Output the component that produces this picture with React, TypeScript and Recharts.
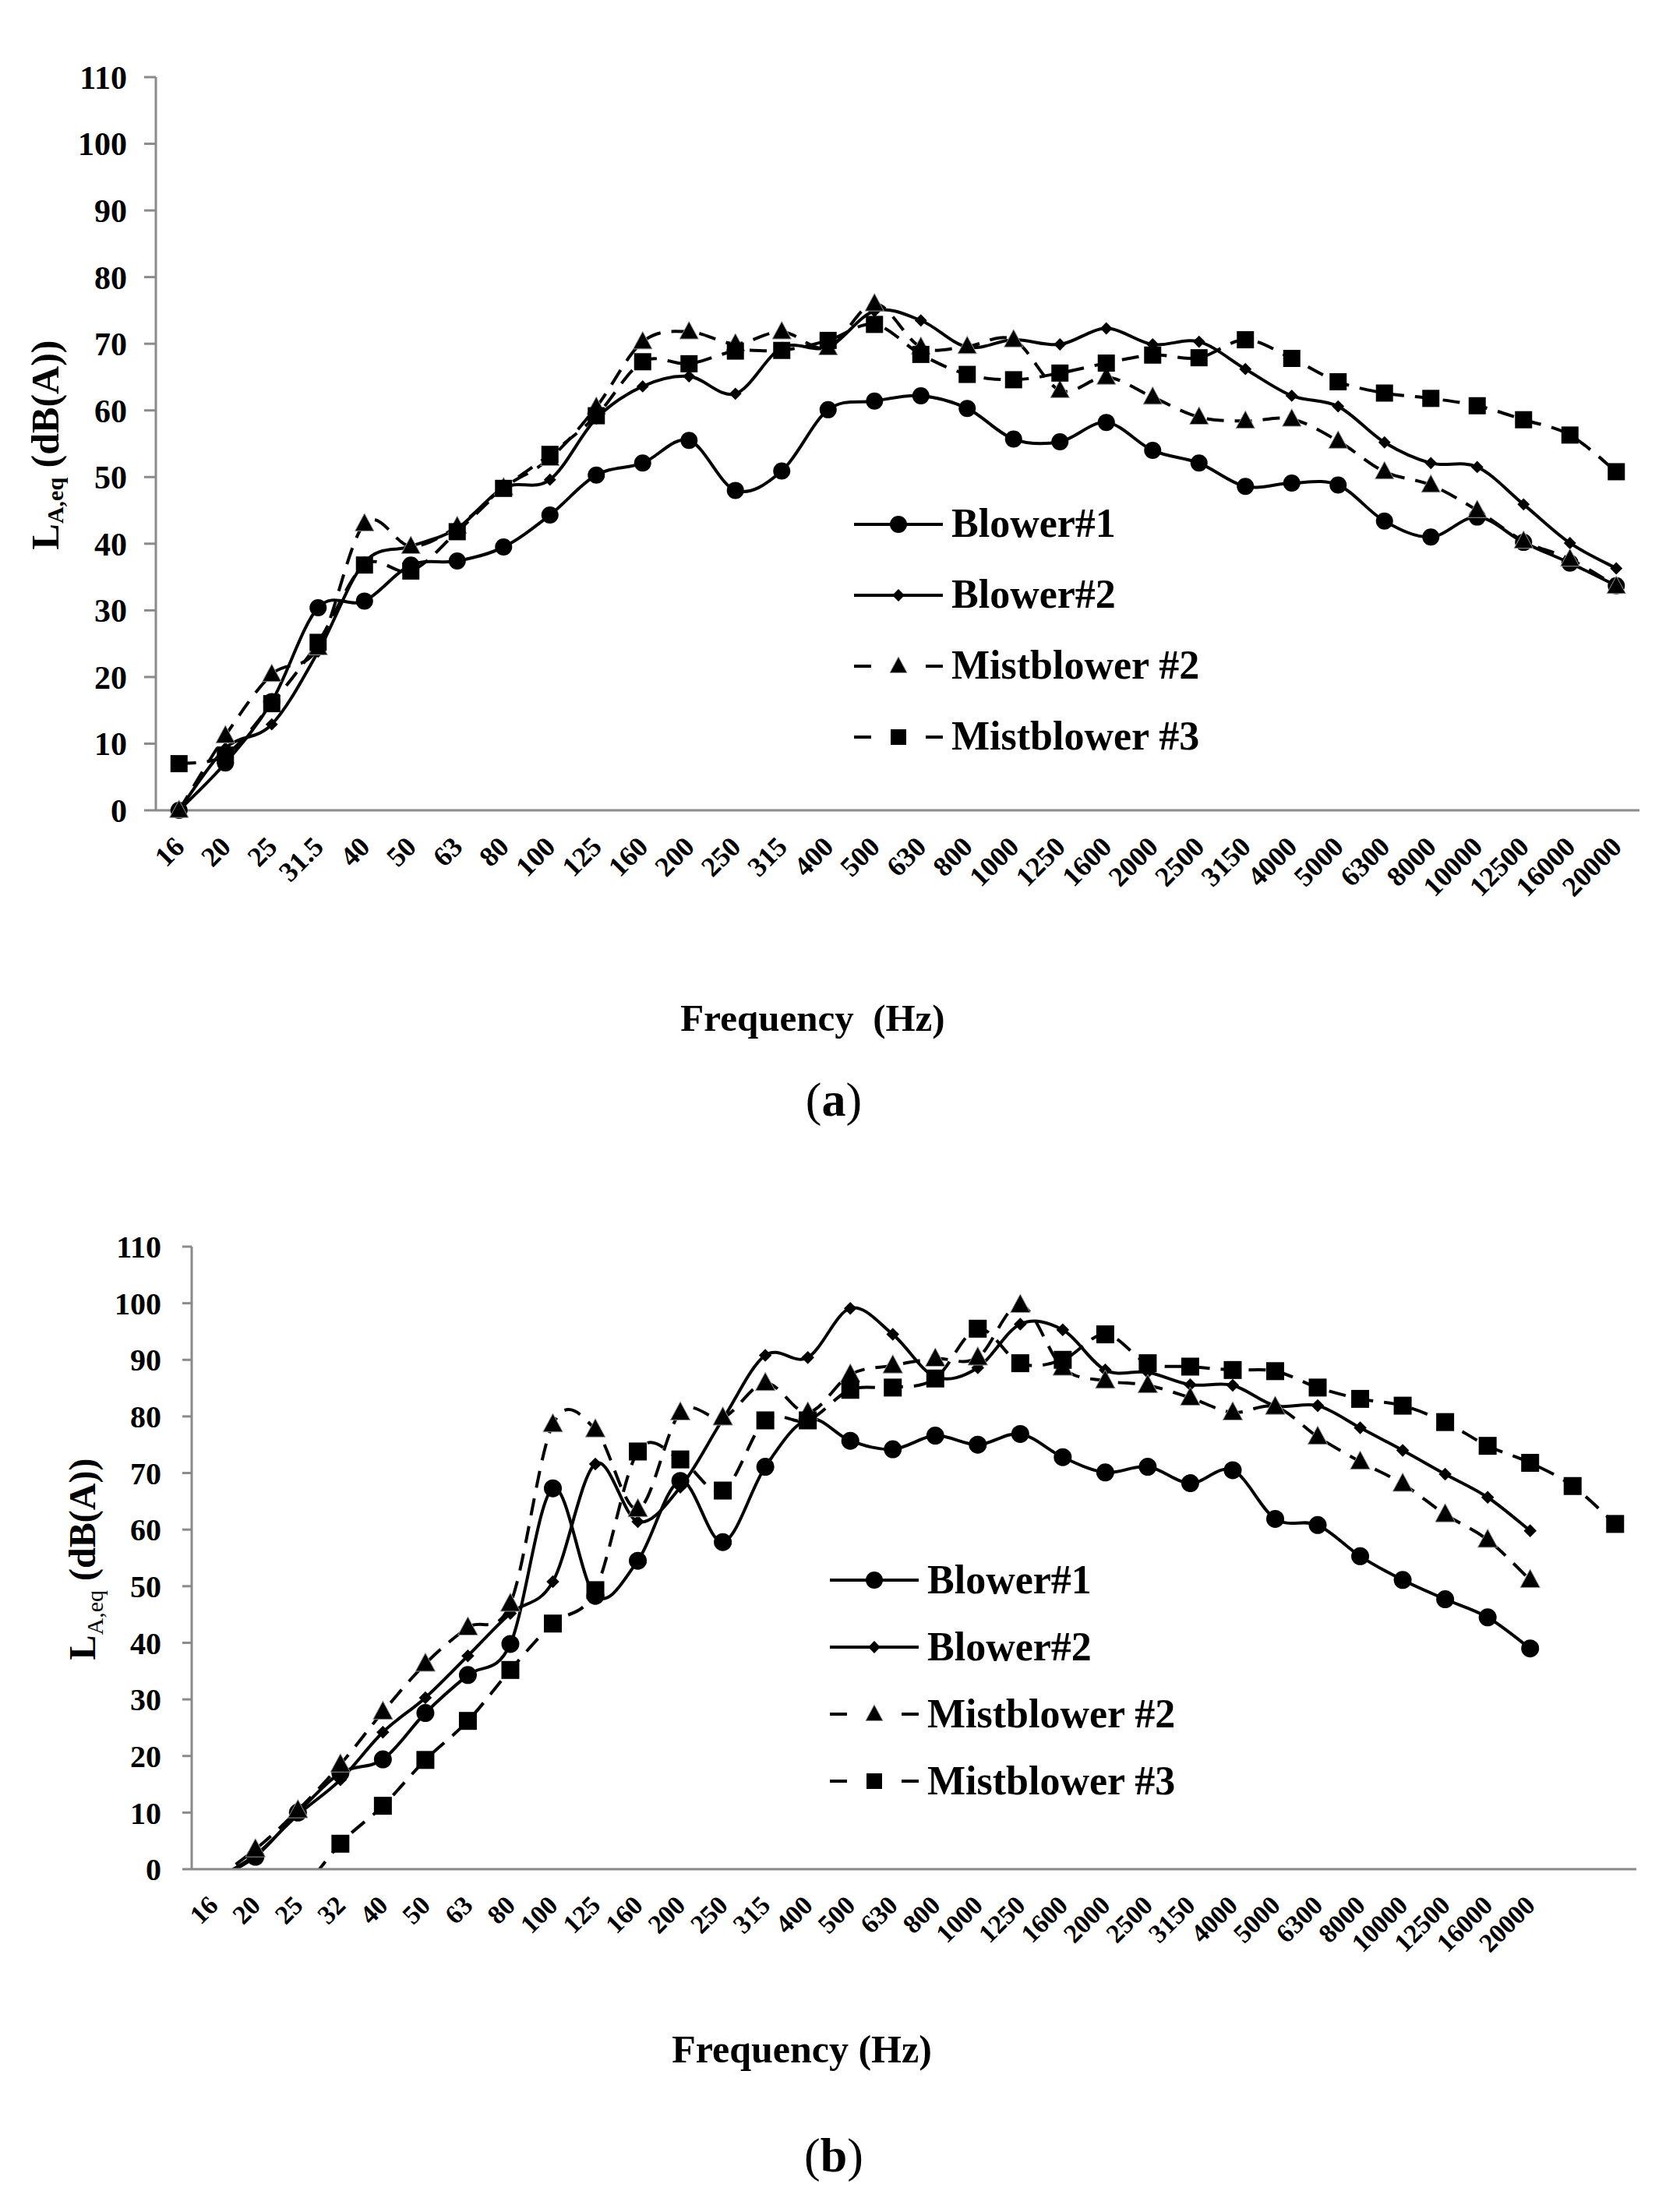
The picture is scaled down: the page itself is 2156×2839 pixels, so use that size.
import React from "react";
import { LineChart, Line, XAxis, YAxis, Legend } from "recharts";

// ---- panel (a) ----
const FREQ_A = ["16", "20", "25", "31.5", "40", "50", "63", "80", "100", "125", "160", "200", "250", "315", "400", "500", "630", "800", "1000", "1250", "1600", "2000", "2500", "3150", "4000", "5000", "6300", "8000", "10000", "12500", "16000", "20000"];
const BLOWER1_A = [0, 7.1, 16.3, 30.4, 31.4, 36.8, 37.4, 39.5, 44.3, 50.3, 52.1, 55.5, 48.0, 50.9, 60.1, 61.4, 62.2, 60.3, 55.7, 55.3, 58.2, 54.0, 52.1, 48.6, 49.1, 48.8, 43.4, 41.0, 44.0, 40.2, 37.1, 33.7];
const BLOWER2_A = [0, 9.3, 12.9, 23.8, 37.2, 39.6, 42.3, 48.4, 49.6, 58.8, 63.6, 65.1, 62.5, 69.4, 69.5, 74.9, 73.5, 69.5, 70.6, 69.9, 72.3, 69.9, 70.3, 66.2, 62.2, 60.6, 55.2, 52.1, 51.5, 45.9, 40.1, 36.3];
const MIST2_A = [0, 11.2, 20.4, 24.4, 43.0, 39.6, 42.6, 48.4, 52.8, 60.5, 70.3, 71.8, 70.0, 71.8, 69.4, 76.0, 69.5, 69.6, 70.6, 63.0, 65.0, 62.0, 59.0, 58.4, 58.7, 55.4, 50.8, 48.8, 45.0, 40.4, 37.7, 33.6];
const MIST3_A = [7.0, 8.3, 16.0, 25.2, 36.8, 35.9, 41.8, 48.3, 53.4, 59.2, 67.3, 67.0, 68.9, 69.0, 70.5, 72.9, 68.4, 65.4, 64.6, 65.6, 67.1, 68.3, 67.9, 70.6, 67.8, 64.3, 62.6, 61.8, 60.7, 58.6, 56.3, 50.8];

// ---- panel (b) ----  (last two categories have no label)
const FREQ_B = ["16", "20", "25", "32", "40", "50", "63", "80", "100", "125", "160", "200", "250", "315", "400", "500", "630", "800", "1000", "1250", "1600", "2000", "2500", "3150", "4000", "5000", "6300", "8000", "10000", "12500", "16000", "20000", "", " "];
const BLOWER1_B = [-2, 2.2, 10, 17, 19.4, 27.6, 34.3, 39.8, 67.3, 48.3, 54.5, 68.6, 57.8, 71.1, 79.5, 75.7, 74.2, 76.6, 75.0, 76.9, 72.8, 70.1, 71.1, 68.2, 70.5, 61.9, 60.8, 55.3, 51.1, 47.7, 44.5, 39.0, null, null];
const BLOWER2_B = [-2, 2.5, 9.6, 15.8, 24.2, 30.3, 37.7, 45.2, 50.8, 71.6, 61.4, 67.5, 79.5, 90.8, 90.4, 99.1, 94.5, 87.0, 88.6, 96.3, 95.3, 88.2, 87.8, 85.6, 85.5, 81.9, 81.9, 78.0, 74.0, 69.8, 65.7, 59.8, null, null];
const MIST2_B = [-2, 3.5, 10.4, 18.5, 27.8, 36.3, 42.7, 46.9, 78.6, 77.7, 63.6, 80.7, 79.8, 85.9, 80.7, 87.4, 89.0, 90.2, 90.4, 99.7, 88.6, 86.3, 85.5, 83.3, 80.7, 81.7, 76.4, 72.0, 68.1, 62.7, 58.2, 51.1, null, null];
const MIST3_B = [null, null, -5, 4.5, 11.2, 19.3, 26.2, 35.2, 43.4, 49.3, 73.8, 72.4, 66.9, 79.3, 79.3, 84.7, 85.1, 86.7, 95.5, 89.4, 90.0, 94.5, 89.4, 88.8, 88.2, 88.0, 85.1, 83.1, 81.9, 79.0, 74.8, 71.8, 67.7, 61.0];

const Y_TICKS = [0, 10, 20, 30, 40, 50, 60, 70, 80, 90, 100, 110];

const SERIF = '"Liberation Serif", "Times New Roman", serif';
const AXIS_GRAY = "#8a8a8a";

type Shape = "circle" | "diamond" | "triangle" | "square";

const SERIES: { key: string; name: string; shape: Shape; dashed: boolean }[] = [
  { key: "blower1", name: "Blower#1", shape: "circle", dashed: false },
  { key: "blower2", name: "Blower#2", shape: "diamond", dashed: false },
  { key: "mist2", name: "Mistblower #2", shape: "triangle", dashed: true },
  { key: "mist3", name: "Mistblower #3", shape: "square", dashed: true },
];

const rowsA = FREQ_A.map((freq, i) => ({
  freq,
  blower1: BLOWER1_A[i],
  blower2: BLOWER2_A[i],
  mist2: MIST2_A[i],
  mist3: MIST3_A[i],
}));

const rowsB = FREQ_B.map((freq, i) => ({
  freq,
  blower1: BLOWER1_B[i],
  blower2: BLOWER2_B[i],
  mist2: MIST2_B[i],
  mist3: MIST3_B[i],
}));

// Excel-like smoothed line (Catmull-Rom through the points)
const smoothCurve = (context: any) => {
  let pts: number[][] = [];
  return {
    areaStart() {},
    areaEnd() {},
    lineStart() {
      pts = [];
    },
    point(x: number, y: number) {
      pts.push([+x, +y]);
    },
    lineEnd() {
      const n = pts.length;
      if (!n) return;
      context.moveTo(pts[0][0], pts[0][1]);
      for (let i = 0; i < n - 1; i++) {
        const p0 = pts[i - 1] || pts[i];
        const p1 = pts[i];
        const p2 = pts[i + 1];
        const p3 = pts[i + 2] || p2;
        context.bezierCurveTo(
          p1[0] + (p2[0] - p0[0]) / 6,
          p1[1] + (p2[1] - p0[1]) / 6,
          p2[0] - (p3[0] - p1[0]) / 6,
          p2[1] - (p3[1] - p1[1]) / 6,
          p2[0],
          p2[1]
        );
      }
    },
  };
};

function Marker({ shape, cx, cy, s }: { shape: Shape; cx: number; cy: number; s: number }) {
  if (shape === "circle") return <circle cx={cx} cy={cy} r={s / 2} fill="#000" />;
  if (shape === "diamond") {
    const h = s * 0.36;
    return <polygon points={`${cx},${cy - h} ${cx + h},${cy} ${cx},${cy + h} ${cx - h},${cy}`} fill="#000" />;
  }
  if (shape === "triangle") {
    const w = s * 0.55;
    return (
      <polygon
        points={`${cx},${cy - s * 0.6} ${cx + w},${cy + s * 0.42} ${cx - w},${cy + s * 0.42}`}
        fill="#000"
        stroke="#999"
        strokeWidth={1}
      />
    );
  }
  return <rect x={cx - s / 2} y={cy - s / 2} width={s} height={s} fill="#000" />;
}

const XTick = ({ x, y, payload, fontSize }: any) => {
  const ty = y + 40;
  return (
    <text
      x={x}
      y={ty}
      dy="0.35em"
      textAnchor="end"
      transform={`rotate(-45 ${x} ${ty})`}
      fontSize={fontSize}
      fontWeight="bold"
      fontFamily={SERIF}
      fill="#000"
    >
      {payload.value}
    </text>
  );
};

function LegendBox({ rowH, fontSize }: { rowH: number; fontSize: number }) {
  return (
    <div style={{ fontFamily: SERIF, fontWeight: "bold", fontSize, color: "#000" }}>
      {SERIES.map((s) => (
        <div key={s.key} style={{ height: rowH, display: "flex", alignItems: "center" }}>
          <svg width={114} height={40} style={{ flex: "none" }}>
            {s.dashed ? (
              <>
                <line x1={0} y1={20} x2={22} y2={20} stroke="#000" strokeWidth={4} />
                <line x1={92} y1={20} x2={114} y2={20} stroke="#000" strokeWidth={4} />
              </>
            ) : (
              <line x1={0} y1={20} x2={114} y2={20} stroke="#000" strokeWidth={4} />
            )}
            <Marker shape={s.shape} cx={57} cy={20} s={s.shape === "triangle" || s.shape === "square" ? 20 : 22} />
          </svg>
          <span style={{ marginLeft: 11, whiteSpace: "nowrap", lineHeight: 1.2 }}>{s.name}</span>
        </div>
      ))}
    </div>
  );
}

type PanelProps = {
  rows: any[];
  height: number;
  top: number;
  margin: { top: number; right: number; left: number; bottom: number };
  xHeight: number;
  halfBand: number;
  yWidth: number;
  yTickSize: number;
  yTickMargin: number;
  yFont: number;
  xFont: number;
  clip: boolean;
  markerSize: number;
  legend: { left: number; top: number; rowH: number; fontSize: number };
};

function Panel(p: PanelProps) {
  return (
    <div style={{ position: "absolute", left: 0, top: p.top }}>
      <LineChart width={2156} height={p.height} data={p.rows} margin={p.margin}>
        <XAxis
          dataKey="freq"
          interval={0}
          height={p.xHeight}
          padding={{ left: p.halfBand, right: p.halfBand }}
          axisLine={{ stroke: AXIS_GRAY, strokeWidth: 3 }}
          tickLine={false}
          tickSize={0}
          tickMargin={0}
          tick={(t: any) => <XTick {...t} fontSize={p.xFont} />}
        />
        <YAxis
          domain={[0, 110]}
          ticks={Y_TICKS}
          allowDataOverflow={p.clip}
          width={p.yWidth}
          axisLine={{ stroke: AXIS_GRAY, strokeWidth: 3 }}
          tickLine={{ stroke: AXIS_GRAY, strokeWidth: 3 }}
          tickSize={p.yTickSize}
          tickMargin={p.yTickMargin}
          tick={{ fill: "#000", fontSize: p.yFont, fontWeight: 700, fontFamily: SERIF }}
        />
        <Legend
          layout="horizontal"
          verticalAlign="middle"
          align="center"
          wrapperStyle={{ left: p.legend.left, top: p.legend.top, width: 800, height: p.legend.rowH * 4, overflow: "visible" }}
          content={() => <LegendBox rowH={p.legend.rowH} fontSize={p.legend.fontSize} />}
        />
        {SERIES.map((s) => (
          <Line
            key={s.key}
            dataKey={s.key}
            name={s.name}
            type={smoothCurve as any}
            stroke="#000"
            strokeWidth={4}
            strokeDasharray={s.dashed ? "22 14" : undefined}
            isAnimationActive={false}
            activeDot={false}
            dot={(d: any) =>
              d.value == null || d.cy == null ? (
                <g key={`${s.key}-${d.index}`} />
              ) : (
                <Marker key={`${s.key}-${d.index}`} shape={s.shape} cx={d.cx} cy={d.cy} s={p.markerSize} />
              )
            }
          />
        ))}
      </LineChart>
    </div>
  );
}

export default function App() {
  return (
    <div style={{ position: "absolute", left: 0, top: 0, width: 2156, height: 2839, background: "#fff" }}>
      <Panel
        rows={rowsA}
        height={1220}
        top={0}
        margin={{ top: 99, right: 52, left: 0, bottom: 0 }}
        xHeight={180}
        halfBand={29.75}
        yWidth={200}
        yTickSize={15}
        yTickMargin={22}
        yFont={42}
        xFont={36}
        clip={false}
        markerSize={22}
        legend={{ left: 1096, top: 627, rowH: 91, fontSize: 52 }}
      />
      <Panel
        rows={rowsB}
        height={1080}
        top={1500}
        margin={{ top: 100, right: 56, left: 0, bottom: 1 }}
        xHeight={180}
        halfBand={27.25}
        yWidth={246}
        yTickSize={12}
        yTickMargin={27}
        yFont={40}
        xFont={34}
        clip={true}
        markerSize={23}
        legend={{ left: 1065, top: 485, rowH: 86, fontSize: 52 }}
      />
      <svg
        width={2156}
        height={2839}
        style={{ position: "absolute", left: 0, top: 0, pointerEvents: "none" }}
        fontFamily={SERIF}
        fill="#000"
      >
        <text transform="translate(75 571) rotate(-90)" textAnchor="middle" fontSize={50} fontWeight="bold">
          L
          <tspan fontSize={30} dy={6}>A,eq</tspan>
          <tspan dy={-6}> (dB(A))</tspan>
        </text>
        <text x={1043} y={1323} textAnchor="middle" fontSize={49} fontWeight="bold" style={{ whiteSpace: "pre" }}>
          {"Frequency  (Hz)"}
        </text>
        <text x={1070} y={1432} textAnchor="middle" fontSize={62}>
          (<tspan fontWeight="bold">a</tspan>)
        </text>

        <text transform="translate(122 2001) rotate(-90)" textAnchor="middle" fontSize={48} fontWeight="bold">
          L
          <tspan fontSize={30} fontWeight="normal" dy={10}>A,eq</tspan>
          <tspan dy={-10}> (dB(A))</tspan>
        </text>
        <text x={1029} y={2647} textAnchor="middle" fontSize={50} fontWeight="bold">
          Frequency (Hz)
        </text>
        <text x={1070} y={2787} textAnchor="middle" fontSize={62}>
          (<tspan fontWeight="bold">b</tspan>)
        </text>
      </svg>
    </div>
  );
}
